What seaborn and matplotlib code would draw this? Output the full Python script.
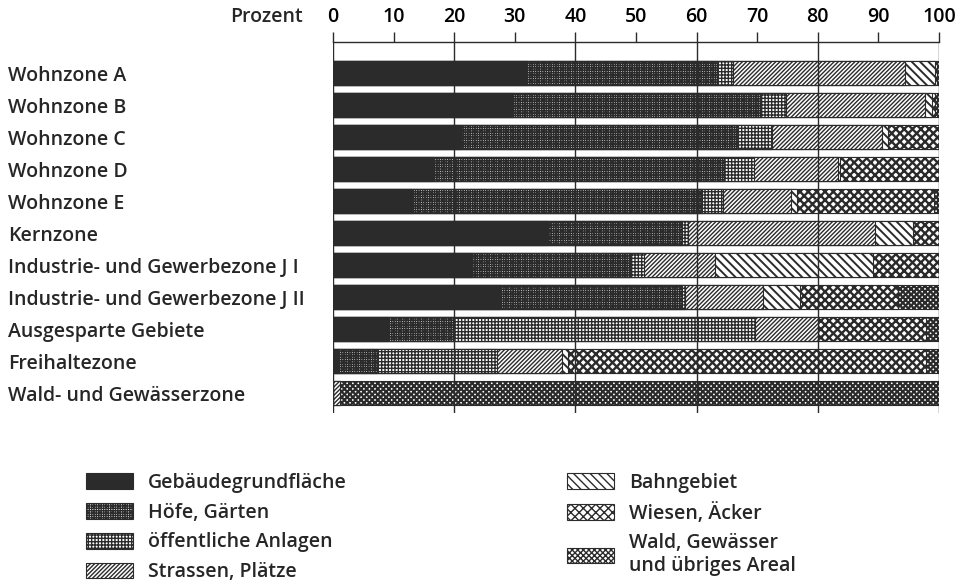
import matplotlib
matplotlib.use("Agg")
import matplotlib.pyplot as plt
from matplotlib.patches import Patch
import pandas as pd
import seaborn as sns

# =============================================================================
# DATA (Prozent der Zonenfläche)
# =============================================================================
zonen = [
    "Wohnzone A", "Wohnzone B", "Wohnzone C", "Wohnzone D", "Wohnzone E",
    "Kernzone", "Industrie- und Gewerbezone J I", "Industrie- und Gewerbezone J II",
    "Ausgesparte Gebiete", "Freihaltezone", "Wald- und Gewässerzone",
]
gebaeude = [32.0, 29.7, 21.1, 16.5, 13.2, 35.5, 23.0, 27.6, 9.1, 1.0, 0.0]
hoefe = [31.4, 40.8, 45.7, 48.0, 47.7, 22.1, 26.0, 30.0, 10.7, 6.3, 0.0]
oeffentlich = [2.6, 4.2, 5.6, 5.0, 3.5, 1.0, 2.3, 0.5, 49.8, 19.8, 0.0]
strassen = [28.4, 23.0, 18.2, 13.8, 11.2, 30.8, 11.7, 12.9, 10.4, 10.7, 1.2]
bahn = [4.9, 1.1, 1.0, 0.4, 1.0, 6.3, 26.1, 6.1, 0.0, 1.0, 0.0]
wiesen = [0.4, 0.6, 8.4, 16.3, 22.6, 4.3, 10.9, 16.1, 17.9, 59.1, 0.0]
wald = [0.3, 0.6, 0.0, 0.0, 0.8, 0.0, 0.0, 6.8, 2.1, 2.1, 98.8]

kategorien = [
    "Gebäudegrundfläche", "Höfe, Gärten", "öffentliche Anlagen", "Strassen, Plätze",
    "Bahngebiet", "Wiesen, Äcker", "Wald, Gewässer\nund übriges Areal",
]
x_ticks = list(range(0, 101, 10))
grid_pos = list(range(0, 101, 20))

# =============================================================================
# STYLE
# =============================================================================
sns.set_style("white")
plt.rcParams["font.family"] = ["Open Sans", "DejaVu Sans"]
plt.rcParams["font.weight"] = "semibold"

INK = "#2b2b2b"
FONT_SIZE = 14
# face, hatch, hatch linewidth per category
styles = [
    (INK, "", 1.0),
    ("white", "+" * 7, 1.1),
    ("white", "+" * 5, 1.0),
    ("white", "/" * 8, 1.0),
    ("white", "\\" * 4, 1.4),
    ("white", "x" * 4, 1.7),
    ("white", "x" * 6, 1.6),
]

df = pd.DataFrame({"Zone": zonen})
for name, vals in zip(kategorien, [gebaeude, hoefe, oeffentlich, strassen, bahn, wiesen, wald]):
    df[name] = vals
cum = df[kategorien].cumsum(axis=1)

# =============================================================================
# PLOT
# =============================================================================
fig = plt.figure(figsize=(9.61, 5.83), dpi=100)
ax = fig.add_axes([333 / 961, 1 - 413 / 583, 606 / 961, 371 / 583])

# draw cumulative layers from the back (100 %) to the front
for k in reversed(range(len(kategorien))):
    face, hatch, hlw = styles[k]
    with plt.rc_context({"hatch.linewidth": hlw}):
        sns.barplot(
            x=cum[kategorien[k]], y=df["Zone"], orient="h", ax=ax,
            color=face, saturation=1, edgecolor=INK, linewidth=0.8,
            hatch=hatch, width=0.73,
        )

for g in grid_pos:
    ax.axvline(g, color=INK, lw=1.0, zorder=5)

ax.set_xlim(0, 100)
ax.set_ylim(10.62, -0.97)
ax.xaxis.tick_top()
ax.set_xticks(x_ticks)
ax.set_xticklabels([str(t) for t in x_ticks], fontsize=FONT_SIZE)
ax.tick_params(axis="x", direction="out", length=7, width=1.0, color=INK, pad=4,
               labelcolor="black")
ax.tick_params(axis="y", length=0, pad=234, labelsize=FONT_SIZE)
for lab in ax.get_yticklabels():
    lab.set_horizontalalignment("left")
ax.set_xlabel("")
ax.set_ylabel("")
for side in ["left", "right", "bottom"]:
    ax.spines[side].set_visible(False)
ax.spines["top"].set_color(INK)
ax.spines["top"].set_linewidth(1.0)

ax.text(-0.05, 1 + 25 / 371, "Prozent", transform=ax.transAxes, ha="right",
        va="center", fontsize=FONT_SIZE)

# =============================================================================
# LEGENDS
# =============================================================================
handles = []
for f, h, hlw in styles:
    with plt.rc_context({"hatch.linewidth": hlw}):
        handles.append(Patch(facecolor=f, edgecolor=INK, hatch=h, linewidth=0.8))
leg_kw = dict(frameon=False, fontsize=FONT_SIZE, handlelength=2.43, handleheight=0.87,
              handletextpad=0.77, labelspacing=0.5, borderpad=0, borderaxespad=0,
              loc="upper left")
fig.legend(handles[:4], kategorien[:4], bbox_to_anchor=(86 / 961, 1 - 473 / 583), **leg_kw)
fig.legend(handles[4:], kategorien[4:], bbox_to_anchor=(567 / 961, 1 - 473 / 583), **leg_kw)

plt.savefig("out.png", dpi=100)
plt.close(fig)
